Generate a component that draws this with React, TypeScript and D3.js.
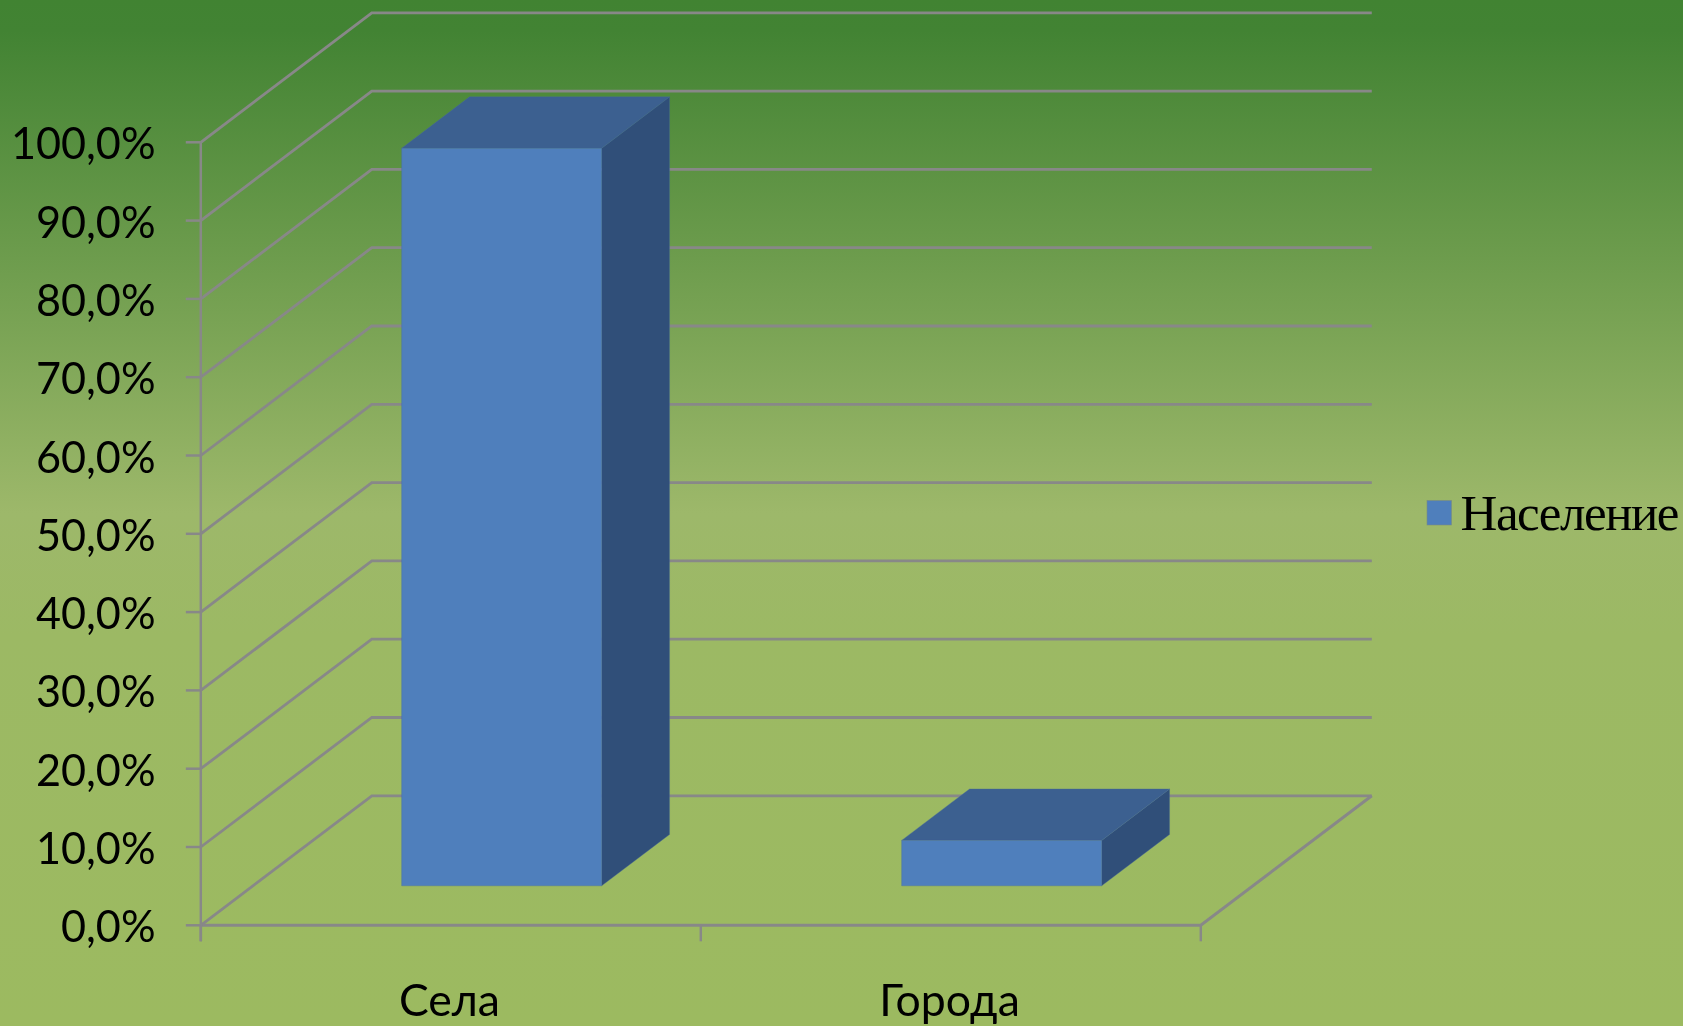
import React from "react";
import * as d3 from "d3";

const categories = ["Села", "Города"];
const seriesName = "Население";
const populationShare = [0.942, 0.058];
const yTicks = [0, 0.1, 0.2, 0.3, 0.4, 0.5, 0.6, 0.7, 0.8, 0.9, 1];
const yTickLabels = ["0,0%", "10,0%", "20,0%", "30,0%", "40,0%", "50,0%", "60,0%", "70,0%", "80,0%", "90,0%", "100,0%"];

const W = 1683;
const H = 1026;
const DX = 171;
const DY = -129.5;
const FRONT = 0.305;
const BACK = 0.702;

const y = d3.scaleLinear().domain([0, 1]).range([925.3, 142.3]);
const x = d3.scaleBand<string>().domain(categories).range([199.5, 1199.5]).paddingInner(0.6).paddingOuter(0.3);
const line = d3.line<[number, number]>();

const GRID = "#888888";
const FONT = "Lato, 'Noto Sans', sans-serif";

function poly(points: [number, number][]) {
  return line(points) + "Z";
}

export default function App() {
  const x0 = 200.8;
  const x1 = 1200.8;
  return (
    <svg width={W} height={H} viewBox={`0 0 ${W} ${H}`} style={{ position: "absolute", left: 0, top: 0, display: "block" }}>
      <defs>
        <linearGradient id="bg" x1="0" y1="0" x2="0" y2="1">
          <stop offset="0" stopColor="#418332" />
          <stop offset="0.03" stopColor="#428333" />
          <stop offset="0.5" stopColor="#9db86a" />
          <stop offset="0.62" stopColor="#9cb964" />
          <stop offset="1" stopColor="#9cba60" />
        </linearGradient>
        <filter id="soft" x="-5%" y="-5%" width="110%" height="110%">
          <feGaussianBlur stdDeviation="0.45" />
        </filter>
      </defs>
      <rect width={W} height={H} fill="url(#bg)" />

      <g filter="url(#soft)">
        {yTicks.map((t) => (
          <path
            key={t}
            d={line([[x0, y(t)], [x0 + DX, y(t) + DY], [x1 + DX, y(t) + DY]]) as string}
            fill="none"
            stroke={GRID}
            strokeWidth={2.8}
          />
        ))}
        <path d={line([[x0, y(0)], [x1, y(0)], [x1 + DX, y(0) + DY]]) as string} fill="none" stroke={GRID} strokeWidth={3} />
        <path d={line([[x0, y(1)], [x0, y(0) + 16]]) as string} fill="none" stroke={GRID} strokeWidth={2.5} />
        {[x0, (x0 + x1) / 2, x1].map((px) => (
          <path key={px} d={line([[px, y(0)], [px, y(0) + 16]]) as string} fill="none" stroke={GRID} strokeWidth={2.5} />
        ))}
        {yTicks.map((t) => (
          <path key={t} d={line([[x0 - 15, y(t)], [x0, y(t)]]) as string} fill="none" stroke={GRID} strokeWidth={2.5} />
        ))}
      </g>

      {categories.map((c, i) => {
        const l = (x(c) as number) + FRONT * DX;
        const r = l + x.bandwidth();
        const b = y(0) + FRONT * DY;
        const top = b - (y(0) - y(populationShare[i]));
        const ox = (BACK - FRONT) * DX;
        const oy = (BACK - FRONT) * DY;
        return (
          <g key={c} stroke="#4a6d9c" strokeWidth={0.6} strokeOpacity={0.6}>
            <path d={poly([[r, top], [r + ox, top + oy], [r + ox, b + oy], [r, b]])} fill="#304f79" />
            <path d={poly([[l, top], [l + ox, top + oy], [r + ox, top + oy], [r, top]])} fill="#3c6090" />
            <path d={poly([[l, top], [r, top], [r, b], [l, b]])} fill="#4f7fbc" />
          </g>
        );
      })}

      <g filter="url(#soft)">
        {yTicks.map((t, i) => (
          <text
            key={t}
            transform={`translate(155.5,${y(t) + 17}) scale(0.96,1)`}
            textAnchor="end"
            fontFamily={FONT}
            fontSize={45}
            fill="#000"
          >
            {yTickLabels[i]}
          </text>
        ))}

        {categories.map((c) => (
          <text
            key={c}
            transform={`translate(${(x(c) as number) + x.bandwidth() / 2},1016) scale(0.99,1)`}
            textAnchor="middle"
            fontFamily={FONT}
            fontSize={45}
            fill="#000"
          >
            {c}
          </text>
        ))}

        <text x={1460.5} y={530} fontFamily="'Liberation Serif', serif" fontSize={51} textLength={219} lengthAdjust="spacing" fill="#000">
          {seriesName}
        </text>
      </g>
      <rect x={1427} y={500.5} width={24.5} height={24.5} fill="#4f7fbc" stroke="#7a8a80" strokeWidth={0.6} />
    </svg>
  );
}
